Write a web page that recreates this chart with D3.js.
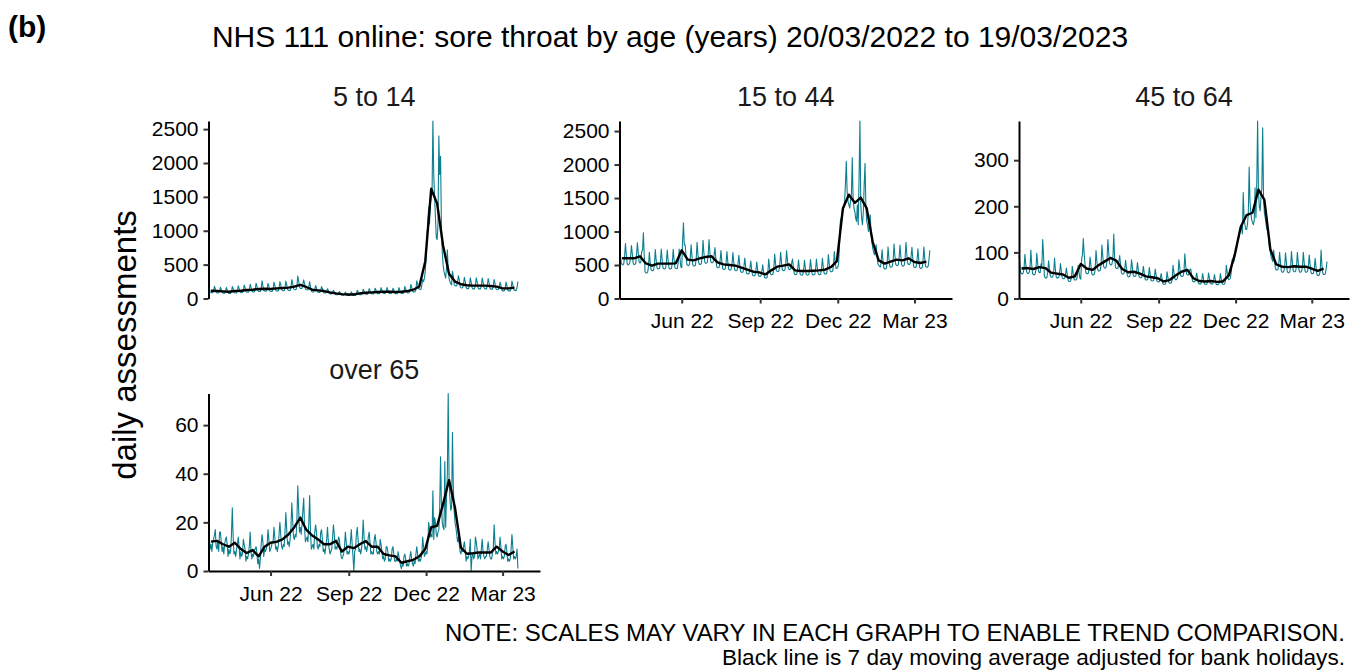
<!DOCTYPE html>
<html><head><meta charset="utf-8">
<script src="https://cdn.jsdelivr.net/npm/d3@7"></script>
<style>body{margin:0;background:#fff;} svg{display:block;}</style>
</head><body><svg id="c" width="1350" height="672"></svg>
<script>
// ---------------- DATA ----------------
const titleText = "NHS 111 online: sore throat by age (years) 20/03/2022 to 19/03/2023";
const panelLabel = "(b)";
const yAxisTitle = "daily assessments";
const noteLines = ["NOTE: SCALES MAY VARY IN EACH GRAPH TO ENABLE TREND COMPARISON.",
                   "Black line is 7 day moving average adjusted for bank holidays."];
const panelNames = ["5 to 14", "15 to 44", "45 to 64", "over 65"];
const firstDay = "2022-03-20";          // daily series start (one value per day)
const firstMaDay = "2022-03-23";        // weekly samples of the 7-day average
const xAxisEnd = "2023-04-14";
const xTickDates = ["2022-06-01", "2022-09-01", "2022-12-01", "2023-03-01"];
const xTickLabels = ["Jun 22", "Sep 22", "Dec 22", "Mar 23"];
const yTicks5to14 = [0, 500, 1000, 1500, 2000, 2500];
const yTicks15to44 = [0, 500, 1000, 1500, 2000, 2500];
const yTicks45to64 = [0, 100, 200, 300];
const yTicksOver65 = [0, 20, 40, 60];

const daily5to14 = [
184,150,98,86,88,85,115, 180,140,95,82,80,84,110, 165,138,90,78,80,78,106, 162,128,86,74,76,75,100,
176,145,92,84,82,80,112, 186,148,98,86,85,88,113, 198,165,105,95,92,94,126, 210,168,110,98,96,98,130,
226,180,120,104,106,104,140, 260,186,122,110,108,108,146, 222,184,118,106,104,105,140, 240,196,128,112,112,110,152,
250,200,130,118,114,116,156, 258,206,136,120,118,120,162, 280,228,148,132,130,130,176, 330,262,172,150,148,150,205,
276,220,144,128,126,128,170, 250,168,110,98,96,98,130, 192,156,102,90,90,90,120, 176,144,94,82,82,82,110,
144,118,76,68,68,66,90, 120,98,64,56,56,56,76, 104,84,56,48,50,48,66, 96,78,52,45,44,46,60,
98,76,50,46,44,45,61, 122,96,64,56,56,56,76, 136,110,72,64,64,64,86, 146,116,76,68,67,68,90,
152,124,80,72,70,72,96, 160,130,86,75,74,76,100, 162,128,85,74,76,75,100, 150,124,82,72,70,71,96,
160,130,85,76,75,74,100, 178,142,94,82,82,83,110, 208,170,110,98,97,98,130, 260,220,150,140,130,140,200,
280,250,300,400,600,900,1100, 1350,1100,1400,1500,1550,2620,1820, 1500,1200,900,870,1100,2400,1830, 2100,1100,700,500,400,350,300,
450,720,420,300,250,220,200, 400,330,212,188,186,186,250, 336,274,178,158,156,158,210, 312,254,166,146,146,146,196,
304,246,162,142,142,144,190, 306,248,160,142,144,142,188, 302,246,162,144,142,142,192, 296,240,158,138,140,138,186,
280,228,148,132,130,132,176, 240,196,128,112,112,114,150, 242,194,126,112,114,112,152, 256,208,136,120,120,118,162,
250];
const ma5to14 = [115,110,105,100,110,115,125,130,140,145,140,150,155,160,175,200,170,130,120,110,
90,75,65,60,60,75,85,90,95,100,100,95,100,110,130,177,547,1620,1400,779,366,250,210,195,190,190,190,185,175,150,150,160];

const daily15to44 = [
800,660,530,510,500,520,640, 820,650,520,500,510,530,630, 790,670,530,505,510,520,660, 830,680,550,530,540,700,720,
980,650,400,380,380,390,480, 690,540,430,415,415,425,515, 730,570,460,440,445,450,545, 740,575,455,445,440,455,550,
725,570,460,440,445,450,545, 735,580,460,450,445,455,555, 740,590,470,460,850,1130,800, 800,640,510,495,490,505,610,
800,630,500,485,485,495,600, 840,660,530,510,510,520,630, 870,680,545,525,530,540,650, 880,695,555,535,535,548,662,
760,595,475,460,460,470,565, 715,560,450,435,432,445,535, 700,550,440,425,425,435,525, 686,540,430,418,415,426,515,
645,505,405,392,390,400,483, 602,473,378,366,365,374,452, 560,440,352,340,340,348,420, 546,430,343,332,330,340,410,
504,396,317,306,305,313,378, 590,462,370,357,357,365,441, 665,522,418,404,403,413,500, 690,540,430,415,417,426,514,
714,561,449,434,433,444,536, 590,460,370,357,357,365,441, 575,450,360,350,348,357,430, 572,452,361,348,350,356,431,
580,457,365,353,352,361,436, 590,462,370,357,356,365,441, 602,473,378,366,365,374,452, 658,517,414,400,400,409,494,
700,540,450,450,460,520,780, 1150,1200,1250,1300,1350,1450,1700, 2050,1600,1450,1400,1350,1450,1550, 2100,1500,1350,1300,1200,1150,1400,
1100,1800,2650,1400,1200,1100,1300, 1700,2020,1350,1150,1100,1000,1100, 1250,1000,850,750,700,650,700, 800,650,520,500,480,470,560,
728,572,458,442,442,452,546, 770,605,484,468,467,479,578, 812,638,510,493,493,505,609, 798,627,502,485,484,496,598,
840,660,528,510,510,522,630, 763,600,480,463,463,474,572, 742,583,466,450,451,461,556, 770,605,484,468,467,479,578,
720];
const ma15to44 = [600,600,600,630,523,490,520,520,520,525,720,580,570,600,620,630,540,510,500,490,
460,430,400,390,360,420,475,490,510,420,410,410,415,420,430,470,557,1343,1550,1429,1507,1346,843,569,520,550,580,570,600,545,530,550];

const daily45to64 = [
94,76,56,54,53,56,66, 96,75,58,55,54,56,68, 105,74,54,52,51,53,62, 98,78,60,56,56,75,70,
128,95,48,45,44,46,58, 82,64,49,46,46,48,57, 88,62,47,44,45,46,55, 76,60,45,43,43,44,53,
66,52,39,37,37,38,46, 70,55,42,40,40,41,49, 72,56,44,42,85,95,130, 97,75,56,54,54,55,66,
90,71,54,51,51,53,63, 104,83,63,60,60,61,73, 116,92,70,66,66,68,82, 128,101,77,73,73,75,90,
140,90,68,65,65,66,80, 93,74,56,53,53,54,65, 83,66,50,47,47,48,58, 84,67,50,48,48,49,59,
78,62,47,45,45,46,55, 70,55,42,40,40,41,49, 67,53,40,38,38,39,47, 64,51,38,37,36,37,45,
54,43,32,31,31,31,38, 58,46,35,33,33,34,41, 72,58,44,41,41,43,51, 84,67,50,48,48,49,59,
97,71,54,51,51,53,63, 64,51,38,37,36,37,45, 55,44,33,32,31,32,39, 54,43,32,31,31,31,38,
55,44,33,32,31,32,39, 52,41,31,30,30,31,37, 54,43,32,31,31,31,38, 72,58,44,41,42,45,60,
85,80,80,90,100,110,120, 130,135,145,150,155,140,230, 175,160,150,150,160,185,285, 210,185,170,165,160,170,240,
175,250,385,230,200,190,220, 240,370,220,185,175,160,150, 150,135,110,100,90,85,80, 105,85,65,62,62,63,75,
100,79,60,57,57,59,70, 99,78,59,56,56,58,69, 102,80,61,58,58,60,71, 100,79,60,57,57,59,70,
100,79,60,57,57,59,70, 94,75,57,54,54,55,66, 87,69,52,50,50,51,61, 105,72,55,52,52,54,64,
80];
const ma45to64 = [65,66,64,68,66,56,54,52,45,48,75,65,62,72,80,88,82,64,57,58,
54,48,46,44,37,40,50,58,62,44,38,37,38,36,37,50,95,155,181,186,236,214,107,74,69,68,70,69,69,65,60,65];

const dailyOver65 = [
18,14,9,11,8,12,13, 15,17,10,9,12,8,16, 16,12,8,10,7,11,13, 14,11,6,9,7,8,15,
26,14,7,8,6,9,11, 14,10,5,8,6,7,13, 11,9,4,6,5,7,10, 16,8,5,7,6,9,9,
10,7,3,5,1,5,11, 15,12,6,9,8,9,11, 17,13,8,9,10,12,12, 18,14,9,10,8,10,15,
20,15,10,9,11,10,16, 24,17,11,12,10,13,18, 28,21,14,13,15,14,21, 35,26,16,18,15,19,25,
30,18,12,13,14,12,20, 31,16,9,10,11,9,16, 19,16,10,9,11,10,16, 17,13,8,9,7,10,13,
18,12,9,7,8,9,14, 19,15,9,10,9,11,14, 13,9,6,5,6,7,10, 16,12,7,8,7,8,12,
17,11,6,0,8,9,15, 18,13,8,9,7,9,13, 21,14,9,10,8,10,14, 16,12,7,8,7,7,13,
15,12,8,7,8,7,13, 11,8,5,6,4,5,10, 10,8,4,5,4,5,9, 10,7,4,4,5,4,8,
6,4,2,1,3,2,6, 7,5,2,3,2,3,6, 8,5,3,2,4,3,7, 10,7,4,5,4,5,7,
14,10,6,7,8,7,11, 20,17,14,15,14,33,13, 22,20,15,14,16,17,26, 47,28,20,18,17,45,18,
30,40,73,38,30,25,26, 57,35,25,20,18,15,12, 14,11,8,7,9,8,10, 12,9,4,6,5,6,8,
13,0,6,7,5,6,14, 12,9,5,6,7,5,9, 13,8,6,5,6,6,9, 12,9,6,5,5,7,9,
19,12,7,8,7,8,9, 14,10,5,6,5,6,10, 11,8,4,5,4,5,9, 15,10,5,6,5,6,9,
1];
const maOver65 = [12.1,12.4,11,10,11.6,9,7.4,8.6,6,10,11.6,12,13,15,18,22,17,14.6,13,11,
11,12.4,8,10,9.4,11,12.3,10,10,7,6.4,6,3.4,4,4.6,6,9,18,18.6,27.6,37.4,26,9.6,7.1,7.3,7.6,7.6,7.6,10,8,6.6,8];

// ---------------- DRAWING ----------------
const FONT = '"Liberation Sans", Arial, Helvetica, sans-serif';
const TEAL = "#0b7f90";
const svg = d3.select("#c").style("font-family", FONT);
const parse = d3.utcParse("%Y-%m-%d");
const start = parse(firstDay), maStart = parse(firstMaDay), xEnd = parse(xAxisEnd);

const panels = [
  {name: panelNames[0], daily: daily5to14,  ma: ma5to14,   ticks: yTicks5to14,  box: [208.5, 540, 121, 298.5], xAxis: false},
  {name: panelNames[1], daily: daily15to44, ma: ma15to44,  ticks: yTicks15to44, box: [619.5, 952, 121, 298.5], xAxis: true},
  {name: panelNames[2], daily: daily45to64, ma: ma45to64,  ticks: yTicks45to64, box: [1019, 1349, 121, 298.5], xAxis: true},
  {name: panelNames[3], daily: dailyOver65, ma: maOver65,  ticks: yTicksOver65, box: [208.5, 540, 393.5, 571], xAxis: true}
];

panels.forEach(p => {
  const [x0, x1, y0, y1] = p.box;
  const x = d3.scaleUtc().domain([start, xEnd]).range([x0, x1]);
  const y = d3.scaleLinear().domain([0, d3.max(p.daily)]).range([y1, y0]);
  const g = svg.append("g");

  const dayLine = d3.line()
    .x((d, i) => x(d3.utcDay.offset(start, i)))
    .y(d => y(d));
  g.append("path").attr("d", dayLine(p.daily))
    .attr("fill", "none").attr("stroke", TEAL).attr("stroke-width", 1.1)
    .attr("stroke-linejoin", "round");

  const maLine = d3.line()
    .x((d, i) => x(d3.utcDay.offset(maStart, 7 * i)))
    .y(d => y(d));
  g.append("path").attr("d", maLine(p.ma))
    .attr("fill", "none").attr("stroke", "#000").attr("stroke-width", 2.4)
    .attr("stroke-linejoin", "round");

  const ya = g.append("g").attr("transform", `translate(${x0},0)`)
    .call(d3.axisLeft(y).tickValues(p.ticks).tickFormat(d3.format("d"))
      .tickSize(5).tickSizeOuter(0).tickPadding(5));
  styleAxis(ya);

  if (p.xAxis) {
    const xa = g.append("g").attr("transform", `translate(0,${y1})`)
      .call(d3.axisBottom(x).tickValues(xTickDates.map(parse))
        .tickFormat((d, i) => xTickLabels[i]).tickSize(5).tickSizeOuter(0).tickPadding(10));
    styleAxis(xa);
  }

  g.append("text").attr("x", (x0 + x1) / 2).attr("y", y0 - 15)
    .attr("text-anchor", "middle").attr("font-size", 27).attr("fill", "#1a1a1a")
    .text(p.name);
});

function styleAxis(a) {
  a.select(".domain").attr("stroke", "#000").attr("stroke-width", 2);
  a.selectAll(".tick line").attr("stroke", "#333").attr("stroke-width", 2);
  a.selectAll(".tick text").attr("fill", "#000").attr("font-size", 21).attr("font-family", FONT);
}

svg.append("text").attr("x", 670).attr("y", 47).attr("text-anchor", "middle")
  .attr("font-size", 30).attr("fill", "#000").text(titleText);
svg.append("text").attr("x", 8).attr("y", 37)
  .attr("font-size", 30).attr("font-weight", "bold").attr("fill", "#000").text(panelLabel);
svg.append("text").attr("transform", "translate(136,345) rotate(-90)")
  .attr("text-anchor", "middle").attr("font-size", 33).attr("fill", "#000").text(yAxisTitle);
svg.append("text").attr("x", 1345).attr("y", 641).attr("text-anchor", "end")
  .attr("font-size", 23).attr("textLength", 900).attr("lengthAdjust", "spacingAndGlyphs")
  .attr("fill", "#000").text(noteLines[0]);
svg.append("text").attr("x", 1345).attr("y", 665).attr("text-anchor", "end")
  .attr("font-size", 22).attr("textLength", 623).attr("lengthAdjust", "spacingAndGlyphs")
  .attr("fill", "#000").text(noteLines[1]);
</script>
</body></html>
